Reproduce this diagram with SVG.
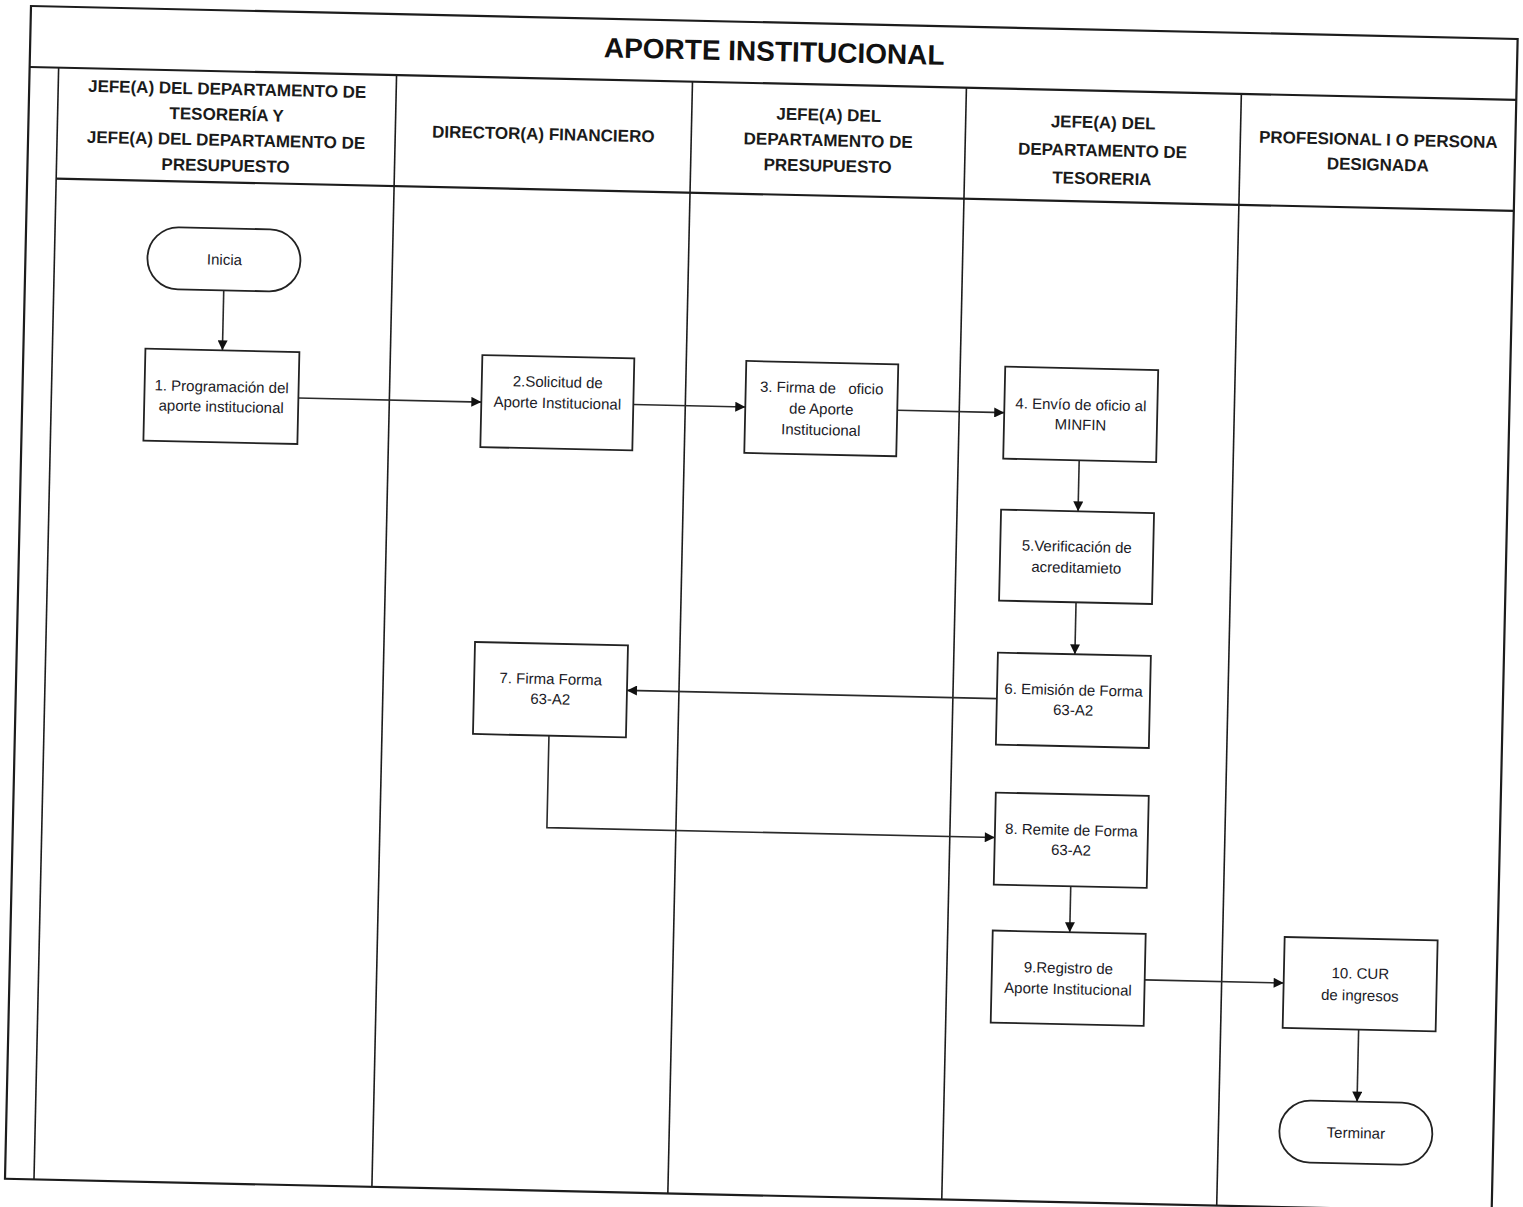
<svg xmlns="http://www.w3.org/2000/svg" width="1523" height="1207" viewBox="0 0 1523 1207">
<style>
.frame{fill:none;stroke:#1c1c1c;stroke-width:2.2}
.lane{fill:none;stroke:#1c1c1c;stroke-width:1.6}
.box{fill:#ffffff;stroke:#222222;stroke-width:1.8}
.conn{fill:none;stroke:#2a2a2a;stroke-width:1.6}
.title{font-family:"Liberation Sans",Arial,sans-serif;font-weight:bold;font-size:28px;fill:#111111}
.hdr{font-family:"Liberation Sans",Arial,sans-serif;font-weight:bold;font-size:17px;fill:#1a1a1a}
.lbl{font-family:"Liberation Sans",Arial,sans-serif;font-size:15px;fill:#1a1a26;white-space:pre}
text{text-anchor:middle;dominant-baseline:central}
</style>
<defs>
<marker id="arr" viewBox="0 0 10 10" refX="10" refY="5" markerWidth="12" markerHeight="10" markerUnits="userSpaceOnUse" orient="auto">
<path d="M0,0 L10,5 L0,10 z" fill="#111111"/>
</marker>
</defs>
<rect x="0" y="0" width="1523" height="1207" fill="#ffffff"/>
<g transform="rotate(1.27 31 6)">
<g id="frame">
<rect class="frame" x="31" y="6" width="1487" height="1173"/>
<line class="frame" x1="31" y1="67" x2="1518" y2="67"/>
<line class="lane" x1="60" y1="67" x2="60" y2="1179"/>
<line class="frame" x1="60" y1="178" x2="1518" y2="178"/>
<line class="lane" x1="398" y1="67" x2="398" y2="1179"/>
<line class="lane" x1="694" y1="67" x2="694" y2="1179"/>
<line class="lane" x1="968" y1="67" x2="968" y2="1179"/>
<line class="lane" x1="1243" y1="67" x2="1243" y2="1179"/>
<text class="title" x="775" y="35">APORTE INSTITUCIONAL</text>
</g>
<g id="headers">
<text class="hdr" x="229" y="85">JEFE(A) DEL DEPARTAMENTO DE</text>
<text class="hdr" x="229" y="110.5">TESORERÍA Y</text>
<text class="hdr" x="229" y="136">JEFE(A) DEL DEPARTAMENTO DE</text>
<text class="hdr" x="229" y="161.5">PRESUPUESTO</text>
<text class="hdr" x="546" y="123">DIRECTOR(A) FINANCIERO</text>
<text class="hdr" x="831" y="97.5">JEFE(A) DEL</text>
<text class="hdr" x="831" y="123">DEPARTAMENTO DE</text>
<text class="hdr" x="831" y="148.5">PRESUPUESTO</text>
<text class="hdr" x="1105.5" y="99">JEFE(A) DEL</text>
<text class="hdr" x="1105.5" y="127">DEPARTAMENTO DE</text>
<text class="hdr" x="1105.5" y="155">TESORERIA</text>
<text class="hdr" x="1381" y="110">PROFESIONAL I O PERSONA</text>
<text class="hdr" x="1381" y="135">DESIGNADA</text>
</g>
<g id="connectors">
<line class="conn" x1="230" y1="286" x2="230" y2="346" marker-end="url(#arr)"/>
<line class="conn" x1="307" y1="392" x2="490" y2="392" marker-end="url(#arr)"/>
<line class="conn" x1="642" y1="391" x2="754" y2="391" marker-end="url(#arr)"/>
<line class="conn" x1="906" y1="391" x2="1013" y2="391" marker-end="url(#arr)"/>
<line class="conn" x1="1089" y1="437" x2="1089" y2="488" marker-end="url(#arr)"/>
<line class="conn" x1="1089" y1="579" x2="1089" y2="631" marker-end="url(#arr)"/>
<line class="conn" x1="1012" y1="677" x2="642" y2="677" marker-end="url(#arr)"/>
<path class="conn" d="M565,724 V816 H1013" marker-end="url(#arr)"/>
<line class="conn" x1="1090" y1="863" x2="1090" y2="909" marker-end="url(#arr)"/>
<line class="conn" x1="1166" y1="955" x2="1305" y2="955" marker-end="url(#arr)"/>
<line class="conn" x1="1381" y1="1000" x2="1381" y2="1072" marker-end="url(#arr)"/>
</g>
<g id="inicia">
<rect class="box" x="153" y="224" width="153" height="62" rx="31"/>
<text class="lbl" x="230" y="255">Inicia</text>
</g>
<g id="n1">
<rect class="box" x="153" y="346" width="154" height="92"/>
<text class="lbl" x="230" y="382">1. Programación del</text>
<text class="lbl" x="230" y="402">aporte institucional</text>
</g>
<g id="n2">
<rect class="box" x="490" y="345" width="152" height="92"/>
<text class="lbl" x="566" y="370">2.Solicitud de</text>
<text class="lbl" x="566" y="391">Aporte Institucional</text>
</g>
<g id="n3">
<rect class="box" x="754" y="345" width="152" height="92"/>
<text class="lbl" x="830" y="370">3. Firma de   oficio</text>
<text class="lbl" x="830" y="391">de Aporte</text>
<text class="lbl" x="830" y="412">Institucional</text>
</g>
<g id="n4">
<rect class="box" x="1013" y="345" width="153" height="92"/>
<text class="lbl" x="1089.5" y="381">4. Envío de oficio al</text>
<text class="lbl" x="1089.5" y="401">MINFIN</text>
</g>
<g id="n5">
<rect class="box" x="1012" y="488" width="153" height="91"/>
<text class="lbl" x="1088.5" y="523">5.Verificación de</text>
<text class="lbl" x="1088.5" y="544">acreditamieto</text>
</g>
<g id="n6">
<rect class="box" x="1012" y="631" width="153" height="92"/>
<text class="lbl" x="1088.5" y="666.5">6. Emisión de Forma</text>
<text class="lbl" x="1088.5" y="686.5">63-A2</text>
</g>
<g id="n7">
<rect class="box" x="489" y="632" width="153" height="92"/>
<text class="lbl" x="565.5" y="667">7. Firma Forma</text>
<text class="lbl" x="565.5" y="687">63-A2</text>
</g>
<g id="n8">
<rect class="box" x="1013" y="771" width="153" height="92"/>
<text class="lbl" x="1089.5" y="806.5">8. Remite de Forma</text>
<text class="lbl" x="1089.5" y="826.5">63-A2</text>
</g>
<g id="n9">
<rect class="box" x="1013" y="909" width="153" height="92"/>
<text class="lbl" x="1089.5" y="944.5">9.Registro de</text>
<text class="lbl" x="1089.5" y="965.5">Aporte Institucional</text>
</g>
<g id="n10">
<rect class="box" x="1305" y="909" width="153" height="91"/>
<text class="lbl" x="1381.5" y="943.5">10. CUR</text>
<text class="lbl" x="1381.5" y="965.5">de ingresos</text>
</g>
<g id="terminar">
<rect class="box" x="1304" y="1072" width="153" height="62" rx="31"/>
<text class="lbl" x="1380.5" y="1103">Terminar</text>
</g>
</g>
</svg>
